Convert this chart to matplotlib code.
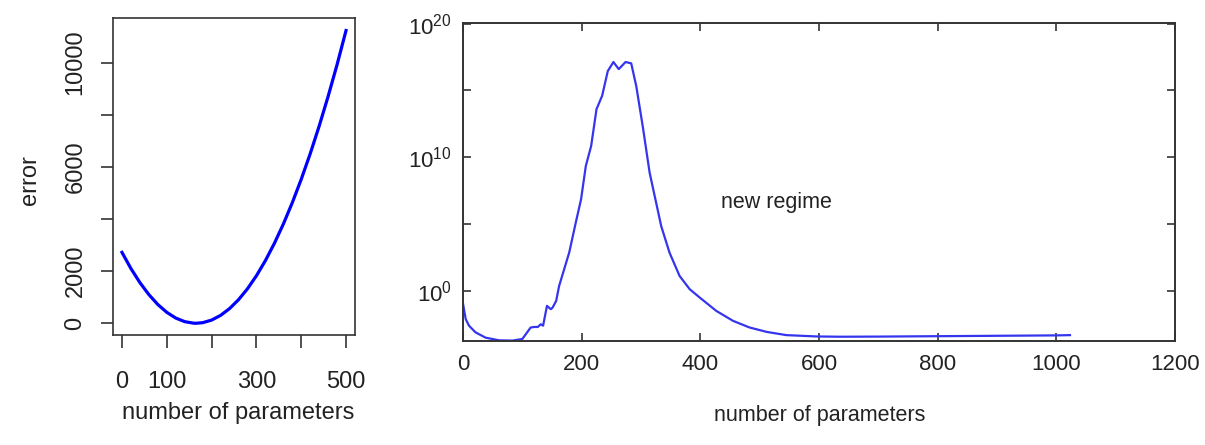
import matplotlib
matplotlib.use("Agg")
import matplotlib.pyplot as plt
from matplotlib import font_manager as fm
import matplotlib.ticker as mticker

# avoid picking the Narrow variant of Liberation Sans
fm.fontManager.ttflist = [f for f in fm.fontManager.ttflist if 'Narrow' not in f.fname]
plt.rcParams['font.family'] = ['Liberation Sans', 'DejaVu Sans']
plt.rcParams['mathtext.fontset'] = 'custom'
plt.rcParams['mathtext.rm'] = 'Liberation Sans'
plt.rcParams['mathtext.it'] = 'Liberation Sans'

# Left panel data (classical U-shaped curve)
left_params = [0, 20, 40, 60, 80, 100, 120, 140, 160, 165, 180, 200, 220, 240,
               260, 280, 300, 320, 340, 360, 380, 400, 420, 440, 460, 480, 500]
left_error = [2720, 2100, 1560, 1100, 720, 420, 200, 62, 3, 0, 22, 122, 302, 562,
              902, 1322, 1822, 2402, 3062, 3802, 4622, 5522, 6502, 7562, 8702,
              9922, 11230]
left_xticks = [0, 100, 200, 300, 400, 500]
left_xlabels = ['0', '100', '', '300', '', '500']
left_yticks = [0, 2000, 4000, 6000, 8000, 10000]
left_ylabels = ['0', '2000', '', '6000', '', '10000']

# Right panel data (log10 of error)
right_params = [0, 4.5, 10, 21, 38, 61, 83, 100, 114, 120, 126, 131, 135, 141.5,
                148, 151, 157, 162, 179, 190, 199, 207, 216, 225, 234.5, 244,
                253.5, 262.5, 274, 283.5, 292, 303, 314.5, 334, 348, 365, 382,
                399, 427, 455, 483, 512, 545, 596, 636, 700, 800, 900, 1000, 1023]
right_log_error = [-0.95, -2.1, -2.6, -3.1, -3.5, -3.7, -3.72, -3.6, -2.74, -2.7,
                   -2.7, -2.5, -2.6, -1.12, -1.37, -1.25, -0.75, 0.37, 2.87, 5.1,
                   6.86, 9.35, 10.85, 13.6, 14.6, 16.45, 17.13, 16.6, 17.13,
                   17.03, 15.33, 12.3, 8.86, 4.86, 2.87, 1.12, 0.13, -0.5, -1.5,
                   -2.24, -2.74, -3.07, -3.31, -3.41, -3.43, -3.42, -3.39, -3.36,
                   -3.33, -3.31]
right_xticks = [0, 200, 400, 600, 800, 1000, 1200]
right_yticks_exp = [0, 5, 10, 15, 20]
right_ylabel_exp = [0, 10, 20]

fig = plt.figure(figsize=(12.05, 4.45), dpi=100)

# ---- Left panel ----
ax1 = fig.add_axes([113/1205, 1-335/445, 242/1205, 317/445])
ax1.plot(left_params, left_error, color='#0000ff', lw=2.3,
         solid_joinstyle='round')
ax1.set_xlim(-20, 520)
ax1.set_ylim(-450, 11710)
ax1.set_xticks(left_xticks)
ax1.set_xticklabels(left_xlabels)
ax1.set_yticks(left_yticks)
ax1.set_yticklabels(left_ylabels, rotation=90, va='center')
ax1.tick_params(axis='both', direction='out', length=9, width=1.2, color='#333333',
                labelsize=17, labelcolor='#222222')
ax1.tick_params(axis='x', pad=17)
ax1.tick_params(axis='y', pad=10)
for s in ax1.spines.values():
    s.set_color('#333333')
    s.set_linewidth(1.2)
fig.text(30/1205, 1-180/445, 'error', rotation=90, ha='center', va='center',
         fontsize=17, color='#222222')
fig.text(238/1205, 1-413/445, 'number of parameters', ha='center', va='center',
         fontsize=17, color='#222222')

# ---- Right panel ----
ax2 = fig.add_axes([463/1205, 1-341/445, 712/1205, 318/445])
ax2.plot(right_params, [10.0**v for v in right_log_error], color='#3535ee', lw=1.6,
         solid_joinstyle='round')
ax2.set_yscale('log')
ax2.set_xlim(0, 1200)
ax2.set_ylim(10**-3.75, 10**20.05)
ax2.set_xticks(right_xticks)
ax2.set_xticklabels([str(t) for t in right_xticks])
ax2.set_yticks([10.0**e for e in right_yticks_exp])
ax2.set_yticklabels([(r'$10^{%d}$' % e) if e in right_ylabel_exp else ''
                     for e in right_yticks_exp])
ax2.yaxis.set_minor_locator(mticker.NullLocator())
ax2.tick_params(axis='both', direction='in', length=6, width=1.2, color='#333333',
                top=True, right=True, labelsize=16, labelcolor='#222222')
ax2.tick_params(axis='x', pad=9)
ax2.tick_params(axis='y', pad=8)
for s in ax2.spines.values():
    s.set_color('#333333')
    s.set_linewidth(1.4)
ax2.text(434, 10**6.6, 'new regime', ha='left', va='center', fontsize=15.5,
         color='#222222')
fig.text(820/1205, 1-415/445, 'number of parameters', ha='center', va='center',
         fontsize=15.5, color='#222222')

fig.savefig('out.png', dpi=100)
